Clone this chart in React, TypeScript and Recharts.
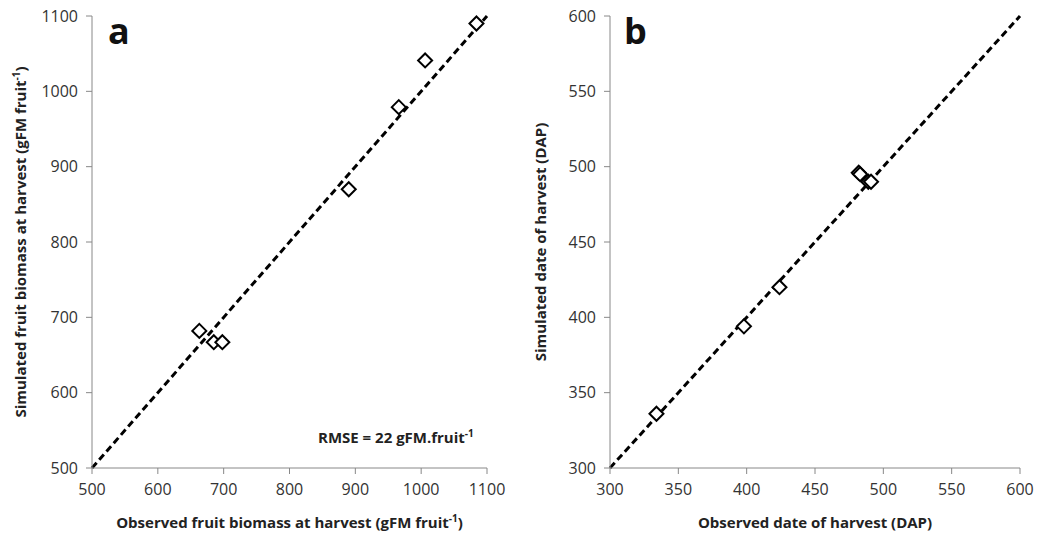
import React from "react";
import {
  ScatterChart,
  Scatter,
  XAxis,
  YAxis,
  ReferenceLine,
  Label,
} from "recharts";

// panel a: fruit biomass (gFM fruit-1)
const obsBiomass = [1084, 1006, 966, 890, 663, 685, 698];
const simBiomass = [1090, 1041, 979, 870, 682, 667, 667];
const biomassTicks = [500, 600, 700, 800, 900, 1000, 1100];

// panel b: harvest date (DAP)
const obsDate = [334, 398, 424, 482, 483, 489, 491];
const simDate = [336, 394, 420, 496, 495, 490, 490];
const dateTicks = [300, 350, 400, 450, 500, 550, 600];

const FONT = "'Open Sans', sans-serif";
const tickStyle = { fontSize: 16, fill: "#333", fontFamily: FONT };

const biomassData = obsBiomass.map((x, i) => ({ x, y: simBiomass[i] }));
const dateData = obsDate.map((x, i) => ({ x, y: simDate[i] }));

const Diamond = (props: any) => {
  const { cx, cy } = props;
  const r = 7;
  return (
    <polygon
      points={`${cx},${cy - r} ${cx + r},${cy} ${cx},${cy + r} ${cx - r},${cy}`}
      fill="#fff"
      stroke="#000"
      strokeWidth={2}
    />
  );
};

const xTitle = (main: string, sup: string, tail: string) => (props: any) => {
  const { x, y, width } = props.viewBox;
  return (
    <text
      x={x + width / 2}
      y={y + 60}
      textAnchor="middle"
      fontFamily={FONT}
      fontWeight="bold"
      fontSize={15}
      fill="#222"
    >
      {main}
      {sup && (
        <tspan dy={-6} fontSize={10}>
          {sup}
        </tspan>
      )}
      {tail && <tspan dy={sup ? 6 : 0}>{tail}</tspan>}
    </text>
  );
};

const yTitle = (main: string, sup: string, tail: string, at: number) => (props: any) => {
  const { y, height } = props.viewBox;
  const cx = at;
  const cy = y + height / 2;
  return (
    <text
      x={cx}
      y={cy}
      transform={`rotate(-90 ${cx} ${cy})`}
      textAnchor="middle"
      fontFamily={FONT}
      fontWeight="bold"
      fontSize={15}
      fill="#222"
    >
      {main}
      {sup && (
        <tspan dy={-6} fontSize={10}>
          {sup}
        </tspan>
      )}
      {tail && <tspan dy={sup ? 6 : 0}>{tail}</tspan>}
    </text>
  );
};

const axisLine = { stroke: "#888" };

export default function App() {
  return (
    <div style={{ position: "absolute", left: 0, top: 0, width: 1040, height: 540, background: "#fff" }}>
      <div style={{ position: "absolute", left: 0, top: 0 }}>
        <ScatterChart width={520} height={540} margin={{ top: 16, right: 33, bottom: 0, left: 32 }}>
          <XAxis
            type="number"
            dataKey="x"
            domain={[500, 1100]}
            ticks={biomassTicks}
            height={72}
            tick={tickStyle}
            tickMargin={10}
            tickSize={6}
            axisLine={axisLine}
            tickLine={axisLine}
          >
            <Label content={xTitle("Observed fruit biomass at harvest (gFM fruit", "-1", ")")} />
          </XAxis>
          <YAxis
            type="number"
            dataKey="y"
            domain={[500, 1100]}
            ticks={biomassTicks}
            width={60}
            tick={tickStyle}
            tickMargin={8}
            tickSize={6}
            axisLine={axisLine}
            tickLine={axisLine}
          >
            <Label content={yTitle("Simulated fruit biomass at harvest (gFM fruit", "-1", ")", 26)} />
          </YAxis>
          <ReferenceLine
            segment={[
              { x: biomassTicks[0], y: biomassTicks[0] },
              { x: biomassTicks[6], y: biomassTicks[6] },
            ]}
            stroke="#000"
            strokeWidth={3}
            strokeDasharray="7 4"
          />
          <Scatter data={biomassData} shape={Diamond} isAnimationActive={false} />
        </ScatterChart>
      </div>
      <div style={{ position: "absolute", left: 520, top: 0 }}>
        <ScatterChart width={520} height={540} margin={{ top: 16, right: 20, bottom: 0, left: 30 }}>
          <XAxis
            type="number"
            dataKey="x"
            domain={[300, 600]}
            ticks={dateTicks}
            height={72}
            tick={tickStyle}
            tickMargin={10}
            tickSize={6}
            axisLine={axisLine}
            tickLine={axisLine}
          >
            <Label content={xTitle("Observed date of harvest (DAP)", "", "")} />
          </XAxis>
          <YAxis
            type="number"
            dataKey="y"
            domain={[300, 600]}
            ticks={dateTicks}
            width={60}
            tick={tickStyle}
            tickMargin={8}
            tickSize={6}
            axisLine={axisLine}
            tickLine={axisLine}
          >
            <Label content={yTitle("Simulated date of harvest (DAP)", "", "", 26)} />
          </YAxis>
          <ReferenceLine
            segment={[
              { x: dateTicks[0], y: dateTicks[0] },
              { x: dateTicks[6], y: dateTicks[6] },
            ]}
            stroke="#000"
            strokeWidth={3}
            strokeDasharray="7 4"
          />
          <Scatter data={dateData} shape={Diamond} isAnimationActive={false} />
        </ScatterChart>
      </div>
      <div style={{ position: "absolute", left: 108, top: 6, fontFamily: FONT, fontWeight: "bold", fontSize: 36, color: "#111" }}>
        a
      </div>
      <div style={{ position: "absolute", left: 624, top: 6, fontFamily: FONT, fontWeight: "bold", fontSize: 36, color: "#111" }}>
        b
      </div>
      <div style={{ position: "absolute", left: 318, top: 426, fontFamily: FONT, fontWeight: "bold", fontSize: 15, color: "#222" }}>
        RMSE = 22 gFM.fruit<sup style={{ fontSize: 10 }}>-1</sup>
      </div>
    </div>
  );
}
